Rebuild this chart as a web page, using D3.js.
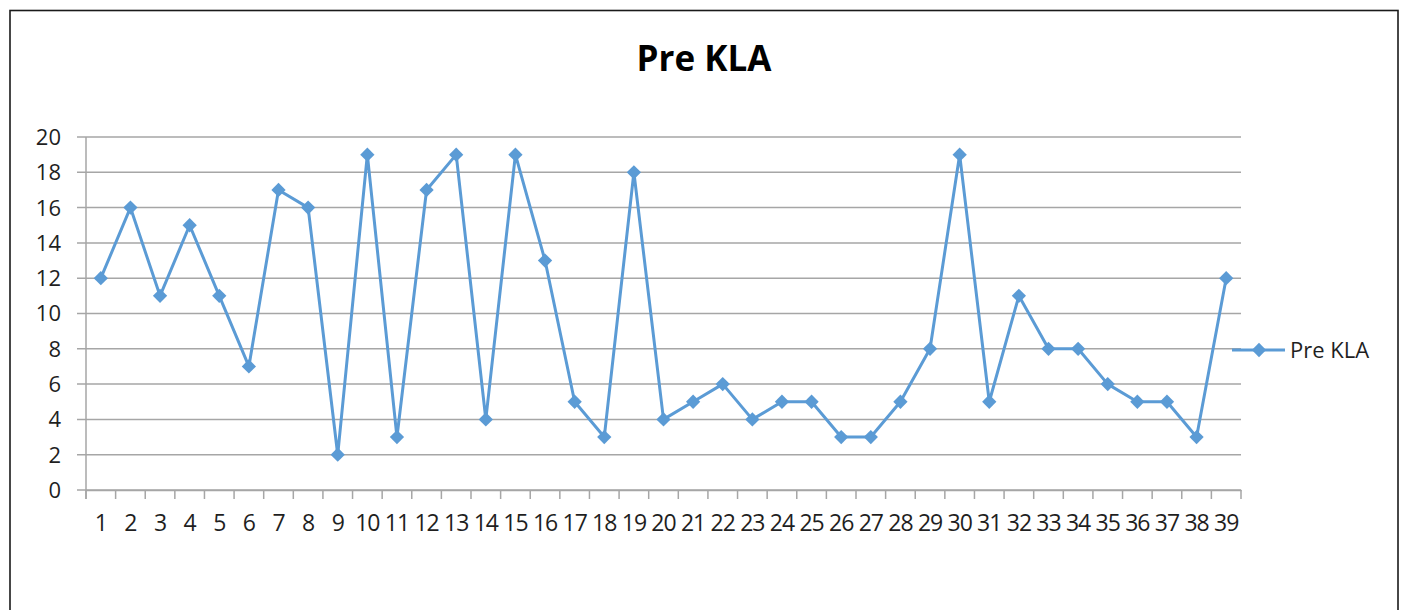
<!doctype html>
<html>
<head>
<meta charset="utf-8">
<title>Pre KLA</title>
<script src="https://d3js.org/d3.v7.min.js"></script>
<style>
  html, body { margin: 0; padding: 0; background: #fff; }
  text { font-family: 'Open Sans', sans-serif; fill: #1f1f1f; }
  .title { font-weight: bold; font-size: 35px; fill: #000; }
  .tick text { font-size: 23px; }
  .legend { font-size: 22px; }
</style>
</head>
<body>
<svg id="chart" width="1402" height="610"></svg>
<script>
  // chart data
  var seriesName = "Pre KLA";
  var categories = d3.range(1, 40);
  var values = [12, 16, 11, 15, 11, 7, 17, 16, 2, 19, 3, 17, 19, 4, 19, 13, 5, 3, 18, 4,
                5, 6, 4, 5, 5, 3, 3, 5, 8, 19, 5, 11, 8, 8, 6, 5, 5, 3, 12];
  var yTicks = [0, 2, 4, 6, 8, 10, 12, 14, 16, 18, 20];

  var blue = "#5b9bd5";
  var grid = "#a6a6a6";

  var margin = {top: 137, left: 86, right: 1241, bottom: 490};

  var svg = d3.select("#chart");

  // outer frame (bottom edge falls off the picture)
  svg.append("rect")
    .attr("x", 10).attr("y", 10.5)
    .attr("width", 1388).attr("height", 640)
    .attr("fill", "none").attr("stroke", "#1a1a1a").attr("stroke-width", 1.6);

  svg.append("text").attr("class", "title")
    .attr("x", 704).attr("y", 71)
    .attr("text-anchor", "middle")
    .text(seriesName);

  var x = d3.scaleBand()
    .domain(categories)
    .range([margin.left, margin.right]);

  var y = d3.scaleLinear()
    .domain([0, 20])
    .range([margin.bottom, margin.top]);

  // horizontal gridlines with small left tick
  svg.append("g")
    .selectAll("line")
    .data(yTicks)
    .enter()
    .append("line")
    .attr("x1", margin.left - 9)
    .attr("x2", margin.right)
    .attr("y1", d => y(d))
    .attr("y2", d => y(d))
    .attr("stroke", grid)
    .attr("stroke-width", 1.5);

  // y labels
  svg.append("g")
    .selectAll("text")
    .data(yTicks)
    .enter()
    .append("text")
    .attr("class", "legend")
    .attr("x", 61)
    .attr("y", d => y(d))
    .attr("dy", "0.36em")
    .attr("text-anchor", "end")
    .attr("font-size", "23px")
    .text(d => d);

  // y axis line
  svg.append("line")
    .attr("x1", margin.left).attr("x2", margin.left)
    .attr("y1", margin.top).attr("y2", margin.bottom + 9)
    .attr("stroke", grid).attr("stroke-width", 1.5);

  // x axis: ticks between categories
  var xAxis = svg.append("g")
    .attr("transform", "translate(0," + margin.bottom + ")")
    .call(d3.axisBottom(x).tickSize(0).tickPadding(27));
  xAxis.select(".domain").attr("stroke", grid).attr("stroke-width", 1.5);
  xAxis.selectAll(".tick text").attr("dy", "0.6em").attr("letter-spacing", "-1px").attr("fill", "#1f1f1f");

  var bounds = categories.map(c => x(c)).concat([margin.right]);
  svg.append("g")
    .selectAll("line")
    .data(bounds)
    .enter()
    .append("line")
    .attr("x1", d => d).attr("x2", d => d)
    .attr("y1", margin.bottom).attr("y2", margin.bottom + 9)
    .attr("stroke", grid).attr("stroke-width", 1.5);

  // series line
  var line = d3.line()
    .x((d, i) => x(categories[i]) + x.bandwidth() / 2)
    .y(d => y(d));

  svg.append("path")
    .datum(values)
    .attr("d", line)
    .attr("fill", "none")
    .attr("stroke", blue)
    .attr("stroke-width", 3)
    .attr("stroke-linejoin", "round");

  var diamond = d3.symbol().type(d3.symbolDiamond2).size(130);

  svg.append("g")
    .selectAll("path")
    .data(values)
    .enter()
    .append("path")
    .attr("d", diamond)
    .attr("transform", (d, i) => "translate(" + (x(categories[i]) + x.bandwidth() / 2) + "," + y(d) + ")")
    .attr("fill", blue);

  // legend
  var ly = 350;
  svg.append("line")
    .attr("x1", 1232).attr("x2", 1285)
    .attr("y1", ly).attr("y2", ly)
    .attr("stroke", blue).attr("stroke-width", 3);
  svg.append("path")
    .attr("d", diamond)
    .attr("transform", "translate(1259," + ly + ")")
    .attr("fill", blue);
  svg.append("text").attr("class", "legend")
    .attr("x", 1290).attr("y", ly)
    .attr("dy", "0.36em")
    .text(seriesName);
</script>
</body>
</html>
